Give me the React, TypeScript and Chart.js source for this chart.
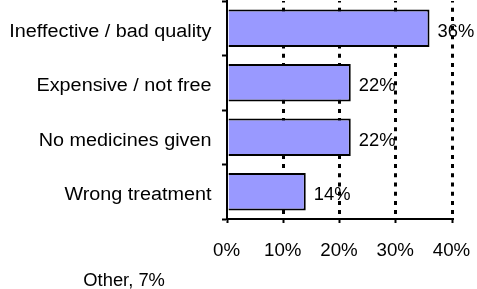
import React, { useEffect, useRef } from "react";
import { Chart, registerables } from "chart.js";

Chart.register(...registerables);

const categories = [
  "Ineffective / bad quality",
  "Expensive / not free",
  "No medicines given",
  "Wrong treatment",
];
const values = [36, 22, 22, 14];
const xTicks = [0, 10, 20, 30, 40];
const footnote = "Other, 7%";

const FONT = "'Liberation Sans', Arial, sans-serif";
const HIDDEN = "rgba(0,0,0,0)";

function stretchedText(
  ctx: CanvasRenderingContext2D,
  text: string,
  x: number,
  y: number,
  size: number,
  sx: number,
  align: CanvasTextAlign
) {
  ctx.save();
  ctx.font = `${size}px ${FONT}`;
  ctx.fillStyle = "#000";
  ctx.textAlign = align;
  ctx.textBaseline = "alphabetic";
  ctx.translate(x, y);
  ctx.scale(sx, 1);
  ctx.fillText(text, 0, 0);
  ctx.restore();
}

const textPlugin = {
  id: "textPlugin",
  afterDatasetsDraw(chart: any) {
    const ctx = chart.ctx;
    const meta = chart.getDatasetMeta(0);
    meta.data.forEach((bar: any, i: number) => {
      stretchedText(ctx, values[i] + "%", bar.x + 8, bar.y + 8.5, 18, 1.02, "left");
    });
  },
  afterDraw(chart: any) {
    const ctx = chart.ctx;
    const y = chart.scales.y;
    y.ticks.forEach((t: any, i: number) => {
      const label = Array.isArray(t.label) ? t.label.join(" ") : String(t.label);
      stretchedText(ctx, label, 211.5, y.getPixelForTick(i) + 8.5, 18, 1.1, "right");
    });
    const x = chart.scales.x;
    x.ticks.forEach((t: any, i: number) => {
      stretchedText(ctx, String(t.label), x.getPixelForTick(i) - 0.5, 256, 18, 1.04, "center");
    });
    stretchedText(ctx, footnote, 83.3, 286, 18, 1.02, "left");
  },
};

export default function App() {
  const ref = useRef<HTMLCanvasElement | null>(null);
  useEffect(() => {
    if (!ref.current) return;
    const chart = new Chart(ref.current, {
      type: "bar",
      data: {
        labels: categories,
        datasets: [
          {
            data: values,
            backgroundColor: "#9999FF",
            borderColor: "#000000",
            borderWidth: 2,
            barPercentage: 0.69,
            categoryPercentage: 1,
          },
        ],
      },
      options: {
        indexAxis: "y",
        animation: false,
        responsive: true,
        maintainAspectRatio: false,
        layout: { padding: { top: 1, right: 25, left: 0, bottom: 0 } },
        plugins: { legend: { display: false }, tooltip: { enabled: false } },
        scales: {
          x: {
            min: xTicks[0],
            max: xTicks[xTicks.length - 1],
            afterFit(scale: any) {
              scale.height = 70;
              scale.paddingLeft = 0;
              scale.paddingRight = 0;
              scale.paddingTop = 0;
              scale.paddingBottom = 0;
            },
            afterBuildTicks(scale: any) {
              scale.ticks = xTicks.map((v) => ({ value: v }));
            },
            ticks: {
              callback: (v: any) => v + "%",
              color: HIDDEN,
              font: { family: FONT, size: 17 },
              padding: 15,
              maxRotation: 0,
            },
            grid: {
              color: (c: any) => (c.index === 0 ? HIDDEN : "#000"),
              lineWidth: 3,
              tickColor: "#000",
              tickWidth: 2,
              tickLength: 4,
              tickBorderDash: [],
            },
            border: { display: true, color: "#000", width: 2, dash: [4, 5.2], dashOffset: 2.5 },
          },
          y: {
            afterFit(scale: any) {
              scale.width = 227;
              scale.paddingLeft = 0;
              scale.paddingRight = 0;
              scale.paddingTop = 0;
              scale.paddingBottom = 0;
            },
            ticks: {
              color: HIDDEN,
              font: { family: FONT, size: 17 },
              padding: 10,
            },
            grid: {
              offset: true,
              drawOnChartArea: false,
              color: "#000",
              tickColor: "#000",
              tickWidth: 2,
              tickLength: 5,
            },
            border: { display: true, color: "#000", width: 2 },
          },
        },
      },
      plugins: [textPlugin],
    });
    return () => chart.destroy();
  }, []);
  return (
    <div style={{ position: "absolute", left: 0, top: 0, width: 477, height: 289 }}>
      <canvas ref={ref} />
    </div>
  );
}
